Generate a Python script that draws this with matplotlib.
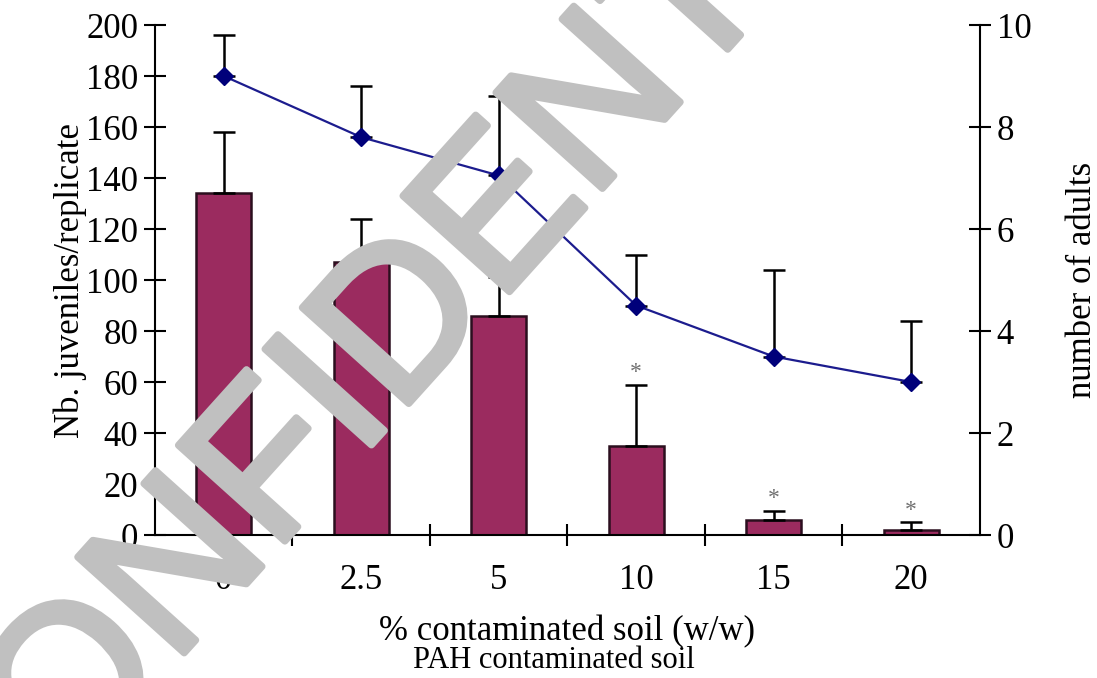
import matplotlib
matplotlib.use("Agg")
import matplotlib.pyplot as plt
import matplotlib.patheffects as pe
import numpy as np

plt.rcParams['font.family'] = ['Liberation Serif', 'DejaVu Serif']

# ---- data ----
categories = ['0', '2.5', '5', '10', '15', '20']
juveniles = [134, 107, 86, 35, 6, 2]
juveniles_err = [24, 17, 15, 24, 3.5, 3]
significant = [False, False, False, True, True, True]
adults = [9.0, 7.8, 7.05, 4.5, 3.5, 3.0]
adults_err = [0.8, 1.0, 1.55, 1.0, 1.7, 1.2]

left_ticks = list(range(0, 201, 20))
right_ticks = list(range(0, 11, 2))

bar_color = '#9b2b5f'
bar_edge = '#2b0f1e'
line_color = '#1c1c8e'
marker_color = '#00007a'

FS = 25

fig = plt.figure(figsize=(10.97, 6.78), dpi=100)
ax = fig.add_axes([0.1413, 0.2109, 0.7520, 0.7522])
ax2 = ax.twinx()

x = np.arange(len(categories))

ax.bar(x, juveniles, width=0.4, color=bar_color, edgecolor=bar_edge, linewidth=1.8, zorder=2)
ax.errorbar(x, juveniles, yerr=[np.zeros(len(x)), juveniles_err], fmt='none',
            ecolor='black', elinewidth=1.8, capsize=8, capthick=1.8, zorder=3)
for xi, v, e, s in zip(x, juveniles, juveniles_err, significant):
    if s:
        ax.annotate('*', (xi, v + e), xytext=(0, 1), textcoords='offset points',
                    ha='center', va='bottom', fontsize=17, color='#707070')

ax.set_xlim(-0.5, 5.5)
ax.set_ylim(0, 200)
ax.set_yticks(left_ticks)
ax.set_xticks(x)
ax.set_xticklabels(categories)
ax.set_xticks(x[:-1] + 0.5, minor=True)

ax.tick_params(axis='y', direction='inout', length=16, width=1.5, labelsize=FS, pad=4)
ax.tick_params(axis='x', which='major', length=0, labelsize=FS, pad=21)
ax.tick_params(axis='x', which='minor', direction='inout', length=16, width=1.5)

for sp in ['top', 'right']:
    ax.spines[sp].set_visible(False)
ax.spines['left'].set_linewidth(1.5)
ax.spines['bottom'].set_linewidth(1.5)

ax.set_ylabel('Nb. juveniles/replicate', fontsize=FS, labelpad=-1)
ax.set_xlabel('% contaminated soil (w/w)', fontsize=FS, labelpad=13)

# right axis
ax2.plot(x, adults, color=line_color, lw=1.6, marker='D', ms=9,
         mfc=marker_color, mec=marker_color, zorder=4)
ax2.errorbar(x, adults, yerr=[np.zeros(len(x)), adults_err], fmt='none',
             ecolor='black', elinewidth=1.8, capsize=8, capthick=1.8, zorder=3)
ax2.set_ylim(0, 10)
ax2.set_yticks(right_ticks)
ax2.tick_params(axis='y', direction='inout', length=16, width=1.5, labelsize=FS, pad=4)
for sp in ['top', 'left', 'bottom']:
    ax2.spines[sp].set_visible(False)
ax2.spines['right'].set_linewidth(1.5)
ax2.set_ylabel('number of adults', fontsize=FS, labelpad=25)

fig.text(554 / 1097, 1 - 668 / 678, 'PAH contaminated soil', ha='center', va='baseline', fontsize=22)

# watermark
fig.text(475 / 1097, 1 - 330 / 678, 'CONFIDENTIAL', family='Liberation Sans', fontsize=150,
         color='#c0c0c0', rotation=48, ha='center', va='baseline', rotation_mode='anchor',
         path_effects=[pe.withStroke(linewidth=5, foreground='#c0c0c0', capstyle='round', joinstyle='round')],
         zorder=10)

fig.savefig('out.png', dpi=100)
